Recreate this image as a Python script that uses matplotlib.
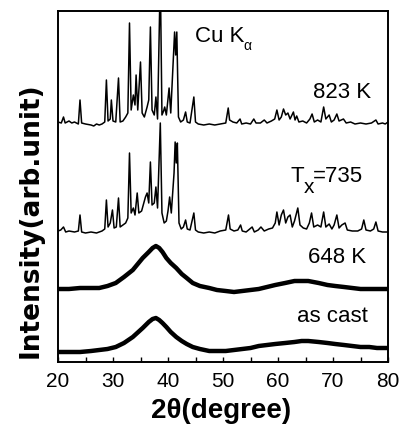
import matplotlib
matplotlib.use("Agg")
import matplotlib.pyplot as plt
from matplotlib.ticker import MultipleLocator

plt.rcParams["font.family"] = ["Liberation Sans", "DejaVu Sans"]

# 823 K pattern: 2theta and intensity above its own baseline (arb. units)
tt_823 = [20.0, 20.6, 21.0, 21.3, 22.0, 22.5, 23.0, 23.7, 24.0, 24.3, 25.0, 26.0, 26.5, 27.0,
          27.5, 28.0, 28.5, 28.8, 29.1, 29.5, 29.7, 30.0, 30.5, 31.0, 31.3, 31.8, 32.3, 32.7,
          33.0, 33.3, 33.7, 34.0, 34.2, 34.5, 35.0, 35.3, 35.7, 36.2, 36.5, 36.8, 37.1, 37.5,
          37.8, 38.1, 38.6, 38.9, 39.2, 39.4, 39.7, 40.2, 40.5, 41.2, 41.4, 41.6, 41.9, 42.3,
          42.8, 43.2, 43.5, 44.0, 44.7, 45.0, 45.5, 46.5, 47.5, 48.5, 49.5, 50.5, 50.95, 51.2,
          51.8, 52.5, 53.1, 53.4, 54.2, 55.0, 55.6, 56.0, 56.8, 57.5, 58.0, 58.8, 59.4, 59.8,
          60.2, 60.6, 61.0, 61.4, 61.8, 62.2, 62.8, 63.1, 63.4, 63.8, 64.5, 65.2, 65.8, 66.2,
          66.6, 67.2, 67.8, 68.3, 68.7, 69.3, 69.7, 70.2, 70.7, 71.1, 71.9, 72.4, 73.2, 74.0,
          75.0, 76.0, 77.0, 77.8, 78.2, 79.0, 79.5, 80.0]
int_823 = [3, 2, 8, 2, 4, 2, 3, 1, 25, 2, 1, 0, -1, 1,
           0, 1, 3, 45, 4, 6, 25, 4, 3, 47, 3, 4, 8, 12,
           102, 15, 30, 20, 50, 15, 63, 12, 8, 18, 25, 98, 15, 10,
           28, 6, 150, 10, 14, 18, 10, 37, 12, 93, 70, 93, 8, 3,
           5, 13, 3, 2, 28, 3, 1, 0, 1, 0, 1, 2, 17, 5,
           3, 2, 6, 1, 2, 1, 6, 2, 2, 5, 2, 4, 6, 15,
           5, 8, 16, 10, 12, 6, 13, 5, 9, 3, 4, 2, 6, 11,
           3, 5, 3, 18, 6, 10, 3, 5, 11, 4, 6, 2, 3, 1,
           2, 1, 2, 5, 1, 2, 1, 3]

# Tx = 735 K pattern
tt_735 = [20.0, 20.5, 21.0, 21.4, 22.0, 23.0, 23.7, 24.0, 24.3, 25.0, 26.0, 27.0, 28.0, 28.5,
          28.8, 29.1, 29.5, 29.9, 30.2, 30.6, 31.0, 31.3, 31.8, 32.3, 32.7, 33.0, 33.3, 33.7,
          34.0, 34.4, 34.7, 35.2, 35.6, 35.9, 36.2, 36.5, 36.8, 37.1, 37.5, 37.8, 38.1, 38.6,
          38.9, 39.3, 39.7, 40.0, 40.3, 40.6, 41.1, 41.3, 41.5, 41.7, 42.0, 42.4, 42.8, 43.2,
          43.5, 44.0, 44.7, 45.0, 45.5, 46.5, 47.5, 48.5, 49.5, 50.5, 51.0, 51.3, 52.0, 52.7,
          53.2, 53.5, 54.2, 55.3, 55.7, 56.4, 56.9, 57.5, 58.3, 59.0, 59.5, 59.8, 60.2, 60.6,
          61.0, 61.4, 61.8, 62.2, 62.6, 63.0, 63.6, 64.0, 64.6, 65.2, 65.7, 66.1, 66.5, 67.2,
          67.8, 68.3, 68.7, 69.3, 69.8, 70.2, 70.7, 71.1, 71.6, 72.2, 72.6, 73.5, 74.5, 75.2,
          75.6, 76.0, 76.8, 77.4, 77.8, 78.2, 79.0, 80.0]
int_735 = [2, 3, 6, 1, 2, 1, 2, 18, 1, 0, 1, 0, 2, 4,
           33, 6, 10, 23, 5, 6, 35, 6, 8, 10, 15, 80, 20, 25,
           18, 40, 20, 22, 30, 36, 40, 30, 71, 28, 30, 46, 25, 110,
           20, 10, 12, 22, 36, 20, 60, 91, 70, 90, 10, 4, 6, 13,
           4, 3, 20, 3, 1, 0, 1, 0, 2, 3, 18, 4, 2, 3,
           8, 2, 1, 6, 1, 3, 6, 2, 4, 5, 10, 21, 8, 18,
           23, 10, 16, 18, 6, 12, 25, 8, 5, 4, 10, 20, 6, 8,
           6, 21, 6, 9, 4, 8, 18, 5, 8, 10, 3, 2, 2, 4,
           13, 3, 2, 4, 11, 2, 1, 1]

# amorphous samples (broad halos)
tt_amor = [20, 22, 24, 26, 27.5, 29, 30.5, 32, 33.6, 35.4, 36.5, 37.2, 37.8, 38.4, 39.0,
           39.7, 40.5, 41.5, 42.5, 43.4, 44.5, 45.8, 47.5, 48.9, 50.5, 52, 53.5, 55, 56.5,
           58, 59.5, 61.3, 63, 64.3, 65.5, 67.4, 69, 70.4, 72, 73.5, 75, 76.6, 78, 80]
int_648 = [0, 0, 1, 1, 1, 3, 6, 12, 19, 31, 37, 41, 43, 41, 37,
           31, 26, 21, 15, 11, 6, 3, 1, -1, -2, -3, -2, -1, 0,
           2, 4, 6, 8, 8, 8, 6, 4, 3, 2, 1, 0, 0, 0, 0]
int_cast = [0, 0, 0, 1, 2, 3, 5, 9, 15, 24, 30, 33, 34, 32, 29,
            25, 20, 15, 11, 8, 5, 3, 1, 1, 1, 2, 3, 4, 6,
            7, 8, 9, 10, 11, 11, 10, 9, 8, 7, 6, 5, 5, 4, 4]

offset_823, offset_735, offset_648, offset_cast = 237, 129, 73, 10

fig = plt.figure(figsize=(4.01, 4.26), dpi=100)
ax = fig.add_axes([58 / 401, 64 / 426, 330 / 401, 351.5 / 426])

ax.plot(tt_823, [v + offset_823 for v in int_823], color="black", lw=1.1)
ax.plot(tt_735, [v + offset_735 for v in int_735], color="black", lw=1.1)
ax.plot(tt_amor, [v + offset_648 for v in int_648], color="black", lw=3.2)
ax.plot(tt_amor, [v + offset_cast for v in int_cast], color="black", lw=3.2)

ax.set_xlim(20, 80)
ax.set_ylim(0, 351.5)
ax.xaxis.set_major_locator(MultipleLocator(10))
ax.xaxis.set_minor_locator(MultipleLocator(5))
ax.tick_params(axis="x", which="both", direction="in", length=3.5, width=1,
               labelsize=15, pad=7)
ax.set_yticks([])
for s in ax.spines.values():
    s.set_linewidth(1.4)

txt = dict(fontsize=16, color="black")
ax.text(44.9, 320, "Cu K", ha="left", va="baseline", **txt)
ax.text(53.7, 312, "α", ha="left", va="baseline", fontsize=10)
ax.text(71.6, 264, "823 K", ha="center", va="baseline", **txt)
ax.text(62.2, 180, "T", ha="left", va="baseline", **txt)
ax.text(64.6, 169, "x", ha="left", va="baseline", fontsize=15)
ax.text(66.4, 180, "=735", ha="left", va="baseline", **txt)
ax.text(70.8, 99, "648 K", ha="center", va="baseline", **txt)
ax.text(69.9, 40, "as cast", ha="center", va="baseline", **txt)

fig.text(31 / 401, 1 - 220 / 426, "Intensity(arb.unit)", rotation=90, ha="center",
         va="center", fontsize=19, fontweight="bold", family=["DejaVu Sans"])
fig.text(221.5 / 401, 1 - 411 / 426, "2θ(degree)", ha="center", va="center",
         fontsize=20, fontweight="bold")

fig.savefig("out.png", dpi=100)
